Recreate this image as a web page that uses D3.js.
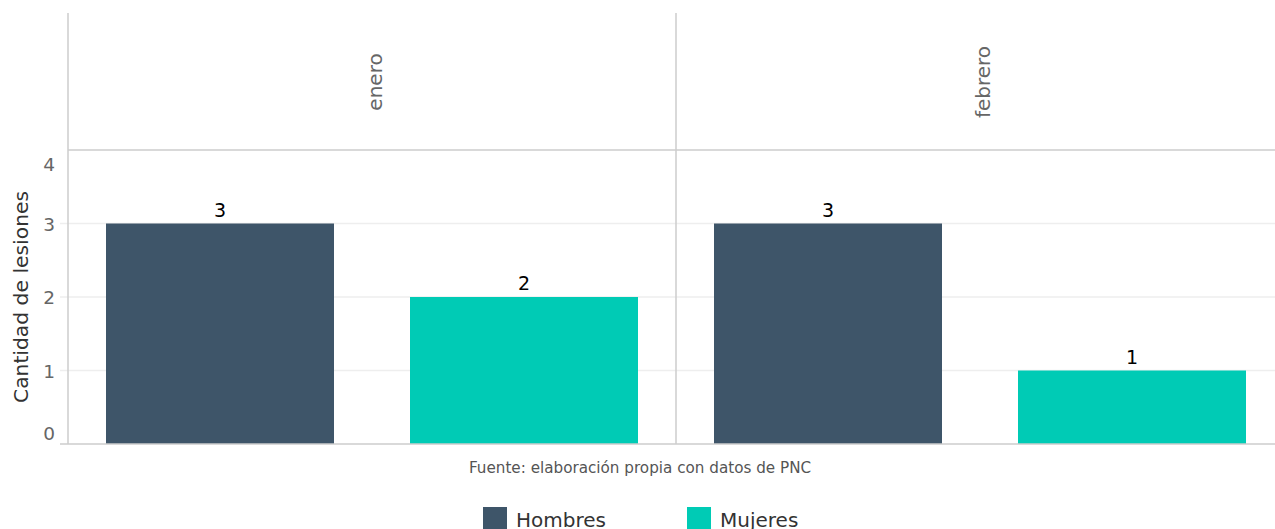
<html>
<head>
<script src="https://d3js.org/d3.v7.min.js"></script>
<style>
  body { margin: 0; background: #fff; }
</style>
</head>
<body>
<svg id="chart" width="1275" height="529" style="font-family: 'DejaVu Sans', sans-serif;"></svg>
<script>
// data
var months = ["enero", "febrero"];
var sexes = ["Hombres", "Mujeres"];
var hombres = [3, 3];
var mujeres = [2, 1];
var yTicks = [0, 1, 2, 3, 4];
var colors = ["#3e5569", "#00cbb5"];

var svg = d3.select("#chart");
var plotLeft = 68, plotRight = 1284, plotTop = 13, stripBottom = 150, plotBottom = 444;
var fontFam = "'DejaVu Sans', sans-serif";

var fx = d3.scaleBand().domain(months).range([plotLeft, plotRight]);
var x = d3.scaleBand().domain(sexes).range([0, fx.bandwidth()]).paddingInner(0.25).paddingOuter(0.125);
var y = d3.scaleLinear().domain([0, 4]).range([plotBottom, stripBottom]);
var color = d3.scaleOrdinal().domain(sexes).range(colors);

var rows = [];
months.forEach(function (m, i) {
  rows.push({ month: m, sex: "Hombres", value: hombres[i] });
  rows.push({ month: m, sex: "Mujeres", value: mujeres[i] });
});

// gridlines
svg.append("g")
  .selectAll("line")
  .data([1, 2, 3])
  .enter()
  .append("line")
  .attr("x1", plotLeft - 8)
  .attr("x2", 1275)
  .attr("y1", function (d) { return y(d); })
  .attr("y2", function (d) { return y(d); })
  .attr("stroke", "#eeeeee")
  .attr("stroke-width", 1.5);

// y axis
var yAxis = svg.append("g")
  .attr("transform", "translate(" + plotLeft + ",0)")
  .call(d3.axisLeft(y).tickValues(yTicks).tickSize(0).tickPadding(13).tickFormat(d3.format("d")));
yAxis.select(".domain").remove();
yAxis.selectAll("text")
  .attr("fill", "#666")
  .style("font-family", fontFam)
  .style("font-size", "18.5px")
  .attr("dy", function (d) { return d == 4 ? 20 : d == 0 ? -5 : 6.5; });

svg.append("text")
  .attr("transform", "translate(28," + ((plotBottom + stripBottom) / 2) + ") rotate(-90)")
  .attr("text-anchor", "middle")
  .attr("fill", "#333")
  .style("font-family", fontFam)
  .style("font-size", "20.3px")
  .text("Cantidad de lesiones");

// bars
svg.append("g")
  .selectAll("rect")
  .data(rows)
  .enter()
  .append("rect")
  .attr("x", function (d) { return fx(d.month) + x(d.sex); })
  .attr("y", function (d) { return y(d.value); })
  .attr("width", x.bandwidth())
  .attr("height", function (d) { return y(0) - y(d.value); })
  .attr("fill", function (d) { return color(d.sex); });

svg.append("g")
  .selectAll("text")
  .data(rows)
  .enter()
  .append("text")
  .attr("x", function (d) { return fx(d.month) + x(d.sex) + x.bandwidth() / 2; })
  .attr("y", function (d) { return y(d.value) - 7; })
  .attr("text-anchor", "middle")
  .attr("fill", "#000")
  .style("font-family", fontFam)
  .style("font-size", "19px")
  .text(function (d) { return d.value; });

// panel frame lines
var frame = svg.append("g").attr("stroke", "#cccccc").attr("stroke-width", 1.5);
months.forEach(function (m) {
  frame.append("line")
    .attr("x1", fx(m)).attr("x2", fx(m))
    .attr("y1", plotTop).attr("y2", plotBottom);
});
frame.append("line")
  .attr("x1", plotLeft).attr("x2", 1275)
  .attr("y1", stripBottom).attr("y2", stripBottom);
frame.append("line")
  .attr("x1", plotLeft - 8).attr("x2", 1275)
  .attr("y1", plotBottom).attr("y2", plotBottom);

// strip labels
svg.append("g")
  .selectAll("text")
  .data(months)
  .enter()
  .append("text")
  .attr("transform", function (d) {
    return "translate(" + (fx(d) + fx.bandwidth() / 2 + 10) + "," + 82 + ") rotate(-90)";
  })
  .attr("text-anchor", "middle")
  .attr("fill", "#666")
  .style("font-family", fontFam)
  .style("font-size", "20px")
  .text(function (d) { return d; });

// caption
svg.append("text")
  .attr("x", 640)
  .attr("y", 473)
  .attr("text-anchor", "middle")
  .attr("fill", "#555")
  .style("font-family", fontFam)
  .style("font-size", "15.2px")
  .text("Fuente: elaboración propia con datos de PNC");

// legend
var legend = svg.append("g")
  .selectAll("g")
  .data(sexes)
  .enter()
  .append("g")
  .attr("transform", function (d, i) { return "translate(" + (483 + i * 204) + ",507)"; });
legend.append("rect")
  .attr("width", 24).attr("height", 24)
  .attr("fill", function (d) { return color(d); });
legend.append("text")
  .attr("x", 33).attr("y", 20)
  .attr("fill", "#333")
  .style("font-family", fontFam)
  .style("font-size", "20px")
  .text(function (d) { return d; });
</script>
</body>
</html>
